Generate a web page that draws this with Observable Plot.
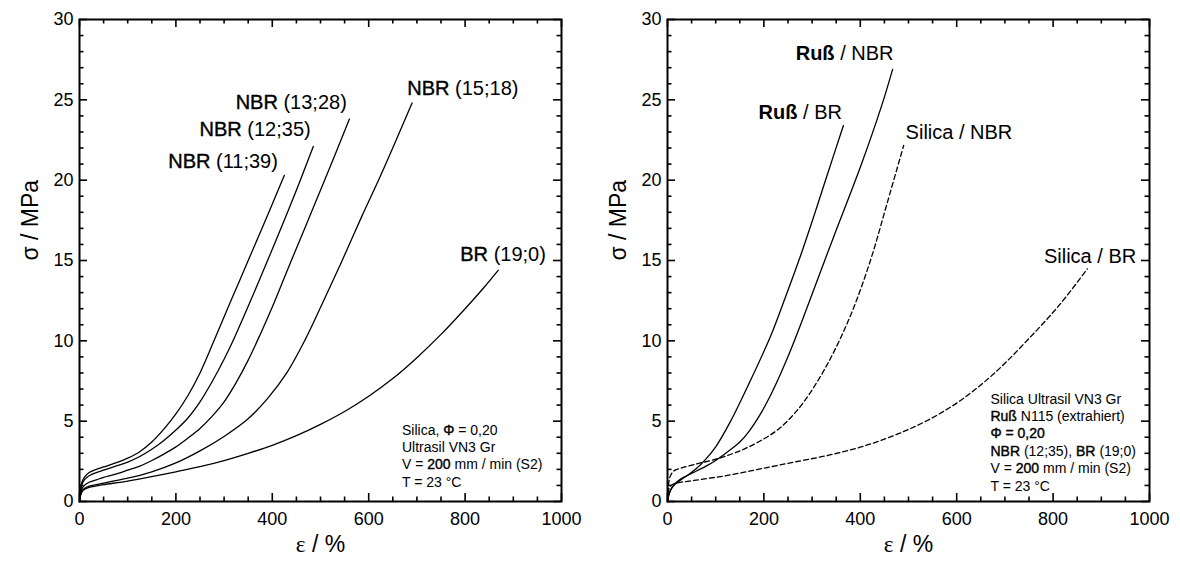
<!DOCTYPE html>
<html>
<head>
<meta charset="utf-8">
<script src="https://cdn.jsdelivr.net/npm/d3@7"></script>
<script src="https://cdn.jsdelivr.net/npm/@observablehq/plot@0.6"></script>
<style>
  html, body { margin: 0; padding: 0; background: #fff; }
  #wrap { position: relative; width: 1180px; height: 563px; overflow: hidden; background: #fff; }
  #left, #right { position: absolute; top: 0; }
  #left { left: 0; }
  #right { left: 590px; }
</style>
</head>
<body>
<div id="wrap"><div id="left"></div><div id="right"></div></div>
<script>
// ---------- data (ε in %, σ in MPa) ----------
const nbr1139 = [[0,0],[2,0.75],[5,1.2],[10,1.5],[20,1.8],[35,2.0],[50,2.15],[75,2.4],[100,2.7],[125,3.1],[150,3.7],[175,4.5],[200,5.45],[225,6.6],[250,8.0],[279,10.0],[315,12.55],[350,15.0],[390,17.8],[425,20.3]];
const nbr1235 = [[0,0],[2,0.65],[5,1.05],[10,1.35],[20,1.6],[35,1.8],[50,1.95],[75,2.2],[100,2.45],[125,2.8],[150,3.25],[175,3.8],[200,4.45],[225,5.2],[250,6.2],[275,7.45],[300,8.85],[320,10.1],[360,12.85],[400,15.7],[445,19.0],[485,22.1]];
const nbr1328 = [[0,0],[2,0.5],[5,0.8],[10,1.0],[20,1.2],[35,1.35],[50,1.5],[75,1.7],[100,1.95],[125,2.2],[150,2.55],[175,2.95],[200,3.4],[225,3.95],[250,4.55],[275,5.3],[300,6.2],[325,7.4],[350,8.8],[375,10.4],[400,12.1],[434,14.6],[470,17.2],[510,20.1],[560,23.8]];
const nbr1518 = [[0,0],[2,0.4],[5,0.65],[10,0.8],[20,0.95],[35,1.05],[50,1.15],[75,1.3],[100,1.45],[150,1.85],[200,2.4],[250,3.15],[300,4.05],[348,5.1],[390,6.4],[430,8.0],[467,10.0],[505,12.4],[545,15.0],[585,17.7],[625,20.3],[690,24.8]];
const br190 = [[0,0],[2,0.35],[5,0.6],[10,0.75],[20,0.88],[35,0.97],[50,1.05],[100,1.27],[150,1.55],[200,1.85],[250,2.17],[300,2.55],[350,3.0],[400,3.5],[450,4.1],[500,4.8],[550,5.6],[600,6.55],[650,7.65],[700,8.95],[750,10.4],[800,12.0],[840,13.35],[869,14.4]];

const russBR = [[0,0],[3,0.45],[8,0.8],[15,1.05],[25,1.3],[40,1.6],[60,2.05],[80,2.65],[100,3.4],[131,5.0],[170,7.4],[214,10.3],[245,12.75],[276,15.3],[303,17.7],[330,20.2],[365,23.4]];
const russNBR = [[0,0],[3,0.45],[8,0.8],[15,1.1],[25,1.35],[40,1.6],[60,1.9],[80,2.2],[100,2.55],[125,3.1],[150,3.7],[170,4.4],[193,5.45],[212,6.5],[234,7.9],[260,9.75],[290,12.1],[345,16.5],[400,20.8],[445,24.7],[467,26.9]];
const silicaNBR = [[0,0],[1,0.7],[3,1.25],[6,1.6],[13,1.9],[30,2.1],[55,2.3],[110,2.72],[158,3.25],[200,3.9],[228,4.45],[255,5.2],[283,6.2],[331,8.5],[380,11.6],[421,15.0],[456,18.6],[490,22.16]];
const silicaBR = [[0,0],[1,0.5],[3,0.8],[6,0.95],[13,1.1],[55,1.31],[124,1.62],[193,2.03],[262,2.45],[331,2.86],[400,3.38],[470,4.11],[539,5.04],[608,6.29],[677,7.95],[746,10.02],[815,12.3],[871,14.48]];

// ---------- ticks & labels ----------
const xMajor = [0, 200, 400, 600, 800, 1000];
const xMinor = d3.range(0, 1001, 50).filter(v => v % 200 !== 0);
const yMajor = [0, 5, 10, 15, 20, 25, 30];
const yMinor = d3.range(0, 31, 1).filter(v => v % 5 !== 0);
const xTitle = "__ε__ / %";
const yTitle = "σ / MPa";

// markup: **bold**, ^^semibold^^, __serif__
const leftCurveLabels = ["^^NBR^^ (11;39)", "^^NBR^^ (12;35)", "^^NBR^^ (13;28)", "^^NBR^^ (15;18)", "^^BR^^ (19;0)"];
const rightCurveLabels = ["**Ruß** / NBR", "**Ruß** / BR", "Silica / NBR", "Silica / BR"];
const leftNote = ["Silica, ^^Φ^^ = 0,20", "Ultrasil VN3 Gr", "V = ^^200^^ mm / min (S2)", "T = 23 °C"];
const rightNote = ["Silica Ultrasil VN3 Gr", "^^Ruß^^ N115 (extrahiert)", "^^Φ = 0,20^^", "^^NBR^^ (12;35), ^^BR^^ (19;0)", "V = ^^200^^ mm / min (S2)", "T = 23 °C"];

// ---------- layout ----------
const leftLabelPos = [[184, 21.16], [249, 23.12], [324, 24.83], [680, 25.7], [790, 15.37]];
const rightLabelPos = [[266, 27.87], [189, 24.18], [494, 22.94], [781, 15.25]];

const toRows = (name, arr) => arr.map(([e, s]) => ({name, e, s}));

function tickMarks() {
  const yk = 30 / 482, xk = 1000 / 482;
  const o = {stroke: "black", strokeWidth: 1.6};
  return [
    Plot.ruleX(xMajor, {...o, x: d => d, y1: 0, y2: 8 * yk}),
    Plot.ruleX(xMinor, {...o, x: d => d, y1: 0, y2: 4.5 * yk}),
    Plot.ruleX(xMajor, {...o, x: d => d, y1: 30, y2: 30 - 8 * yk}),
    Plot.ruleX(xMinor, {...o, x: d => d, y1: 30, y2: 30 - 4.5 * yk}),
    Plot.ruleY(yMajor, {...o, y: d => d, x1: 0, x2: 8 * xk}),
    Plot.ruleY(yMinor, {...o, y: d => d, x1: 0, x2: 4.5 * xk}),
    Plot.ruleY(yMajor, {...o, y: d => d, x1: 1000, x2: 1000 - 8 * xk}),
    Plot.ruleY(yMinor, {...o, y: d => d, x1: 1000, x2: 1000 - 4.5 * xk})
  ];
}

function panel({solid, dashed, labels, labelPos, note, noteX, noteY, marginLeft, marginRight}) {
  const solidRows = solid.flatMap(([n, a]) => toRows(n, a));
  const dashedRows = dashed.flatMap(([n, a]) => toRows(n, a));
  const labelRows = labels.map((t, i) => ({t, x: labelPos[i][0], y: labelPos[i][1]}));
  return Plot.plot({
    width: 590,
    height: 563,
    marginLeft, marginRight,
    marginTop: 19,
    marginBottom: 62,
    style: {fontFamily: "'Liberation Sans', Arial, sans-serif", fontSize: "18px", color: "black", background: "white"},
    x: {domain: [0, 1000], nice: false},
    y: {domain: [0, 30], nice: false},
    marks: [
      Plot.line(solidRows, {x: "e", y: "s", z: "name", stroke: "black", strokeWidth: 1.3, curve: "catmull-rom"}),
      Plot.line(dashedRows, {x: "e", y: "s", z: "name", stroke: "black", strokeWidth: 1.3, strokeDasharray: "5,3", curve: "catmull-rom"}),
      ...tickMarks(),
      Plot.frame({stroke: "black", strokeWidth: 2}),
      Plot.axisX({ticks: xMajor, tickSize: 0, tickPadding: 11, tickFormat: d => String(d), label: null, fontSize: 18}),
      Plot.axisY({ticks: yMajor, tickSize: 0, tickPadding: 6, tickFormat: d => String(d), label: null, fontSize: 18}),
      Plot.text(labelRows, {x: "x", y: "y", text: "t", textAnchor: "start", fontSize: 20, fill: "black"}),
      Plot.text([note.join("\n")], {x: noteX, y: noteY, textAnchor: "start", lineAnchor: "top", lineHeight: 1.24, fontSize: 14, fill: "black"}),
      Plot.text([xTitle], {frameAnchor: "bottom", dy: 50, fontSize: 23, fill: "black"}),
      Plot.text([yTitle], {frameAnchor: "left", dx: -49, rotate: -90, fontSize: 23, fill: "black"})
    ]
  });
}

function richify(svg) {
  const ns = "http://www.w3.org/2000/svg";
  svg.querySelectorAll("text, tspan").forEach(el => {
    if (el.children.length) return;
    const s = el.textContent;
    if (!/\*\*|__|\^\^/.test(s)) return;
    el.textContent = "";
    for (const p of s.split(/(\*\*[^*]+\*\*|__[^_]+__|\^\^[^^]+\^\^)/)) {
      if (!p) continue;
      const t = document.createElementNS(ns, "tspan");
      if (p.startsWith("**")) { t.setAttribute("font-weight", "bold"); t.textContent = p.slice(2, -2); }
      else if (p.startsWith("^^")) { t.setAttribute("stroke", "black"); t.setAttribute("stroke-width", "0.4"); t.textContent = p.slice(2, -2); }
      else if (p.startsWith("__")) { t.setAttribute("font-family", "'Liberation Serif', 'Times New Roman', serif"); t.textContent = p.slice(2, -2); }
      else t.textContent = p;
      el.appendChild(t);
    }
  });
  return svg;
}

const left = panel({
  solid: [["a", nbr1139], ["b", nbr1235], ["c", nbr1328], ["d", nbr1518], ["e", br190]],
  dashed: [],
  labels: leftCurveLabels, labelPos: leftLabelPos,
  note: leftNote, noteX: 669, noteY: 4.92,
  marginLeft: 79, marginRight: 29
});
const right = panel({
  solid: [["rb", russBR], ["rn", russNBR]],
  dashed: [["sn", silicaNBR], ["sb", silicaBR]],
  labels: rightCurveLabels, labelPos: rightLabelPos,
  note: rightNote, noteX: 670, noteY: 6.85,
  marginLeft: 77, marginRight: 31
});
document.getElementById("left").appendChild(richify(left));
document.getElementById("right").appendChild(richify(right));
</script>
</body>
</html>
